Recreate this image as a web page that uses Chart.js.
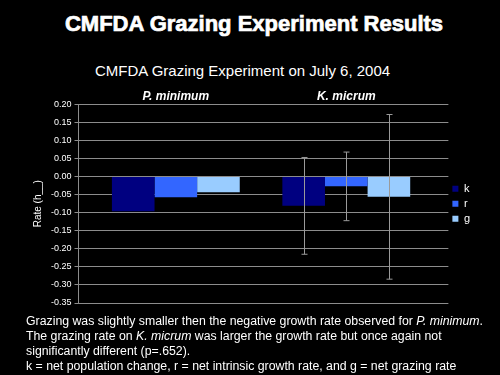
<!DOCTYPE html>
<html>
<head>
<meta charset="utf-8">
<script src="https://cdn.jsdelivr.net/npm/chart.js@4"></script>
<style>
  body { margin: 0; background: #000; width: 500px; height: 375px; overflow: hidden; font-family: "Liberation Sans", Arial, sans-serif; color: #fff; }
  h1 { position: absolute; top: 11px; left: 0; width: 508px; margin: 0; text-align: center; font-size: 22px; line-height: 26px; font-weight: bold; -webkit-text-stroke: 0.7px #fff; }
  #sub { position: absolute; left: 95px; top: 62px; font-size: 15px; line-height: 18px; white-space: nowrap; }
  #wrap { position: absolute; left: 0; top: 88px; width: 500px; height: 228px; }
  #notes { position: absolute; left: 26px; top: 314px; width: 474px; font-size: 12.3px; line-height: 15px; white-space: nowrap; }
</style>
</head>
<body>
<h1>CMFDA Grazing Experiment Results</h1>
<div id="sub">CMFDA Grazing Experiment on July 6, 2004</div>
<div id="wrap"><canvas id="grazing"></canvas></div>
<div id="notes">
Grazing was slightly smaller then the negative growth rate observed for <i>P. minimum</i>.<br>
The grazing rate on <i>K. micrum</i> was larger the growth rate but once again not<br>
significantly different (p=.652).<br>
k = net population change, r = net intrinsic growth rate, and g = net grazing rate
</div>
<script>
  var species = ["P. minimum", "K. micrum"];
  var kValues = [-0.096, -0.081];
  var rValues = [-0.057, -0.027];
  var gValues = [-0.043, -0.056];
  var kErrors = [null, 0.134];
  var rErrors = [null, 0.095];
  var gErrors = [null, 0.228];
  var barColors = ["#000080", "#3366ff", "#99ccff"];

  // error bars drawn from the y scale
  var errorBars = {
    id: "errorBars",
    afterDatasetsDraw: function(chart) {
      var ctx = chart.ctx;
      var y = chart.scales.y;
      ctx.save();
      ctx.strokeStyle = "#9a9a9a";
      ctx.lineWidth = 1;
      chart.data.datasets.forEach(function(ds, i) {
        var meta = chart.getDatasetMeta(i);
        meta.data.forEach(function(bar, j) {
          var err = ds.errors[j];
          if (err == null) return;
          var top = y.getPixelForValue(ds.data[j] + err);
          var bottom = y.getPixelForValue(ds.data[j] - err);
          var x = Math.round(bar.x) + 0.5;
          ctx.beginPath();
          ctx.moveTo(x, top); ctx.lineTo(x, bottom);
          ctx.moveTo(x - 3, top); ctx.lineTo(x + 3, top);
          ctx.moveTo(x - 3, bottom); ctx.lineTo(x + 3, bottom);
          ctx.stroke();
        });
      });
      ctx.restore();
    }
  };

  new Chart("grazing", {
    type: "bar",
    data: {
      labels: species,
      datasets: [
        { label: "k", data: kValues, errors: kErrors, backgroundColor: barColors[0] },
        { label: "r", data: rValues, errors: rErrors, backgroundColor: barColors[1] },
        { label: "g", data: gValues, errors: gErrors, backgroundColor: barColors[2] }
      ]
    },
    options: {
      responsive: true,
      maintainAspectRatio: false,
      animation: false,
      categoryPercentage: 0.75,
      barPercentage: 1,
      layout: { padding: { left: 28, right: 20, top: 0, bottom: 13 } },
      plugins: {
        title: { display: false },
        legend: {
          position: "right",
          fullSize: false,
          labels: {
            color: "#fff",
            boxWidth: 6,
            boxHeight: 6,
            padding: 4,
            font: { family: "Liberation Sans", size: 11 }
          }
        },
        tooltip: { enabled: false }
      },
      scales: {
        x: {
          position: "top",
          grid: { display: false, drawTicks: false },
          border: { display: false },
          ticks: { color: "#fff", padding: 1, font: { family: "Liberation Sans", size: 12, weight: "bold", style: "italic" } },
          // categories sit a little closer together than the even split
          afterBuildTicks: function(s) { s._startValue = -0.571; s._valueRange = 2.17; }
        },
        y: {
          min: -0.35,
          max: 0.20,
          grid: { color: "#8c8c8c", drawTicks: true, tickLength: 4 },
          border: { color: "#8c8c8c" },
          ticks: {
            stepSize: 0.05,
            color: "#fff",
            font: { family: "Liberation Sans", size: 9 },
            callback: function(v) { return v.toFixed(2); }
          },
          title: {
            display: true,
            text: "Rate (h__)",
            color: "#fff",
            font: { family: "Liberation Sans", size: 10 },
            padding: 4
          }
        }
      }
    },
    plugins: [errorBars]
  });
</script>
</body>
</html>
